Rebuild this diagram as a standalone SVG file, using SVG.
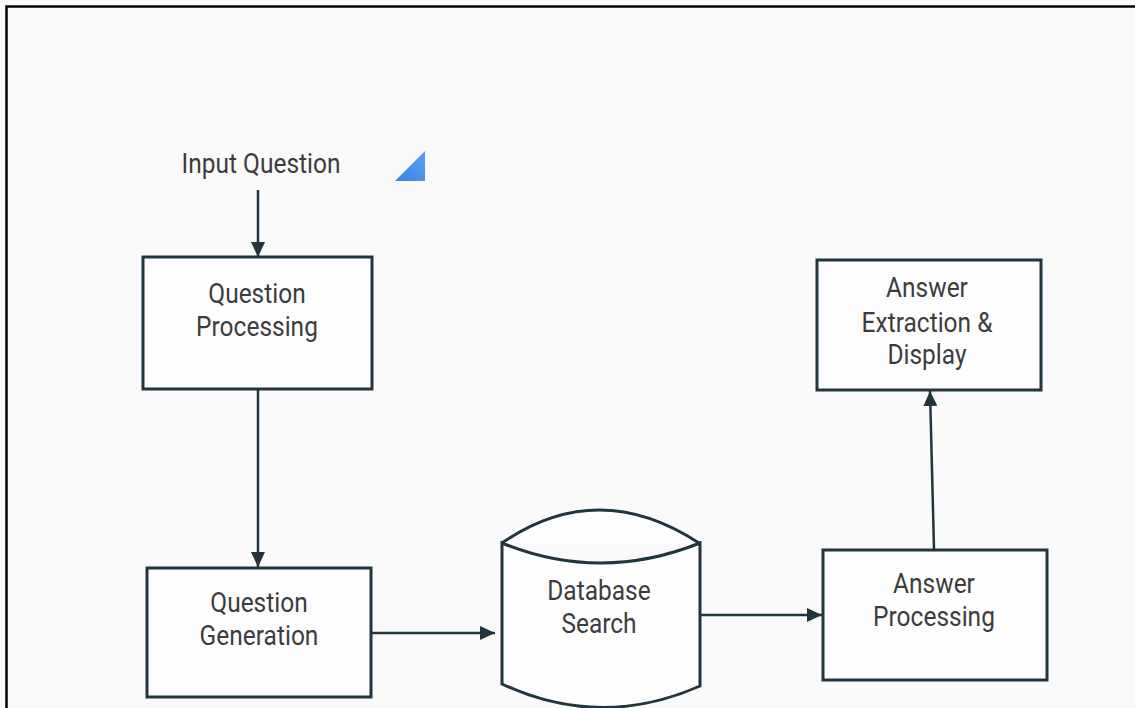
<svg xmlns="http://www.w3.org/2000/svg" width="1135" height="708" viewBox="0 0 1135 708">
<defs>
<marker id="ah" markerUnits="userSpaceOnUse" markerWidth="16" markerHeight="14" refX="15" refY="7" orient="auto">
<path d="M0,0 L15,7 L0,14 Z" fill="#22343c"/>
</marker>
<linearGradient id="tri" x1="0" y1="1" x2="1" y2="0">
<stop offset="0" stop-color="#3b82e6"/>
<stop offset="1" stop-color="#5aa0f2"/>
</linearGradient>
<style>
.box{fill:#fdfdfd;stroke:#22343c;stroke-width:3}
.lbl{font-family:Roboto,"Liberation Sans",sans-serif;font-size:24.5px;fill:#3c3c3c;text-anchor:middle}
.edge{stroke:#22343c;stroke-width:2.5;fill:none;marker-end:url(#ah)}
</style>
</defs>
<rect x="0" y="0" width="1135" height="708" fill="#fafafa"/>
<path d="M6.5,708 V6.5 H1135" fill="none" stroke="#000" stroke-width="2.5"/>
<polygon points="395,181 425,151 425,181" fill="url(#tri)"/>
<g id="connectors">
<line class="edge" x1="258" y1="190" x2="258" y2="257"/>
<line class="edge" x1="258" y1="389" x2="258" y2="567"/>
<line class="edge" x1="371" y1="633" x2="495" y2="633"/>
<line class="edge" x1="700" y1="615" x2="822" y2="615"/>
<line class="edge" x1="934" y1="549" x2="930" y2="391"/>
</g>
<g id="input-question">
<text class="lbl" transform="translate(261,173) scale(1,1.12)">Input Question</text>
</g>
<g id="question-processing">
<rect class="box" x="143" y="257" width="229" height="132"/>
<text class="lbl" transform="translate(257,303) scale(1,1.12)">Question</text>
<text class="lbl" transform="translate(257,336) scale(1,1.12)">Processing</text>
</g>
<g id="question-generation">
<rect class="box" x="147" y="568" width="224" height="129"/>
<text class="lbl" transform="translate(259,612) scale(1,1.12)">Question</text>
<text class="lbl" transform="translate(259,645) scale(1,1.12)">Generation</text>
</g>
<g id="database-search">
<path d="M502,543 L502,684 Q600,730 700,686 L700,543 Q600,583 502,543 Z" fill="#fdfdfd" stroke="#22343c" stroke-width="3"/>
<path d="M502,543 Q598,477 699,543" fill="#fdfdfd" stroke="#22343c" stroke-width="3"/>
<text class="lbl" transform="translate(599,600) scale(1,1.12)">Database</text>
<text class="lbl" transform="translate(599,633) scale(1,1.12)">Search</text>
</g>
<g id="answer-processing">
<rect class="box" x="823" y="550" width="224" height="130"/>
<text class="lbl" transform="translate(934,593) scale(1,1.12)">Answer</text>
<text class="lbl" transform="translate(934,626) scale(1,1.12)">Processing</text>
</g>
<g id="answer-extraction">
<rect class="box" x="817" y="260" width="224" height="130"/>
<text class="lbl" transform="translate(927,297) scale(1,1.12)">Answer</text>
<text class="lbl" transform="translate(927,332) scale(1,1.12)">Extraction &amp;</text>
<text class="lbl" transform="translate(927,364) scale(1,1.12)">Display</text>
</g>
</svg>
